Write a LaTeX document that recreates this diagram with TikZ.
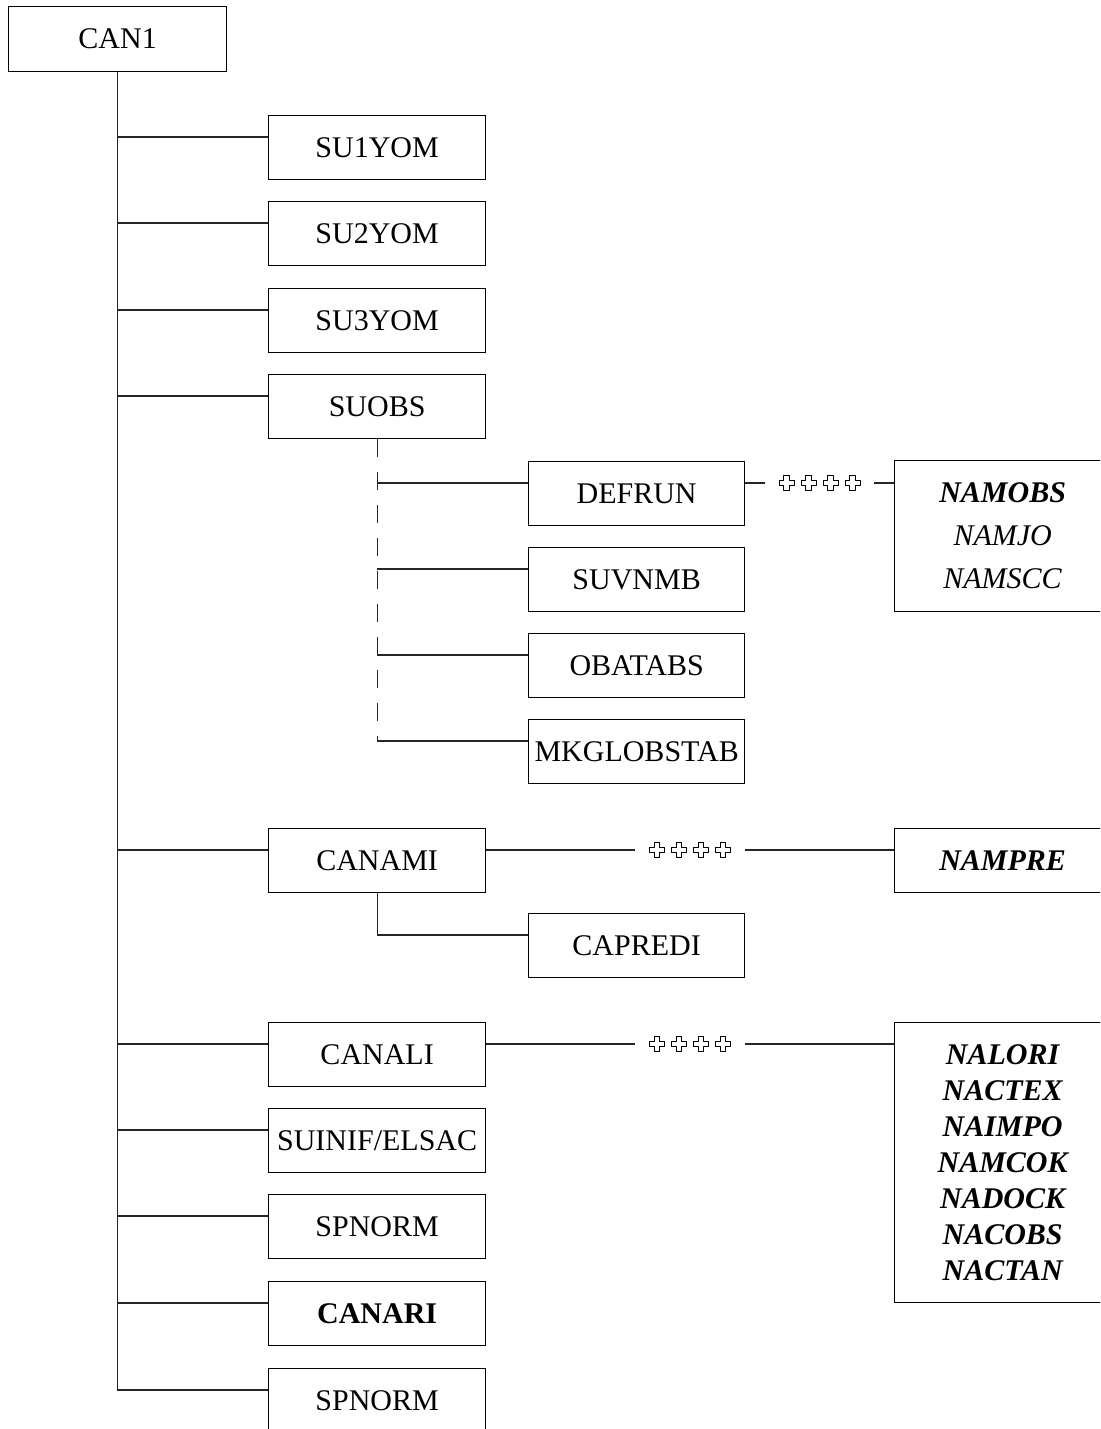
\documentclass[tikz,border=0pt]{standalone}
\usepackage{fontspec}
\setmainfont{Liberation Serif}
\usetikzlibrary{calc}
\begin{document}
\begin{tikzpicture}[x=1pt,y=-1pt,
  box/.style={draw, line width=1.3pt, rectangle, inner sep=0pt, anchor=north west,
              align=center, font=\fontsize{30}{36}\selectfont},
  lvA/.style={box, minimum width=217pt, minimum height=64pt},
  lvB/.style={box, minimum width=216pt, minimum height=64pt},
  side/.style={box, minimum width=216pt},
  conn/.style={draw=black!85, line width=1.2pt},
  dconn/.style={conn, dash pattern=on 18pt off 15pt},
  gap/.style={inner sep=0pt, minimum height=14pt},
  grcross/.pic={\draw[line width=1pt, line join=round]
     (-2.8,-7.5) -- (2.8,-7.5) -- (2.8,-2.8) -- (7.5,-2.8) -- (7.5,2.8) -- (2.8,2.8)
     -- (2.8,7.5) -- (-2.8,7.5) -- (-2.8,2.8) -- (-7.5,2.8) -- (-7.5,-2.8) -- (-2.8,-2.8) -- cycle;}
]
\fill[white] (0,0) rectangle (1100,1429);
\useasboundingbox (0,0) rectangle (1100,1429);
\clip (0,0) rectangle (1100,1429);

% root
\node[box, minimum width=218pt, minimum height=65pt] (can1) at (8,6) {CAN1};

% first level
\node[lvA] (su1)    at (268,115)  {SU1YOM};
\node[lvA] (su2)    at (268,201)  {SU2YOM};
\node[lvA] (su3)    at (268,288)  {SU3YOM};
\node[lvA] (suobs)  at (268,374)  {SUOBS};
\node[lvA] (canami) at (268,828)  {CANAMI};
\node[lvA] (canali) at (268,1022) {CANALI};
\node[lvA] (suinif) at (268,1108) {SUINIF/ELSAC};
\node[lvA] (spna)   at (268,1194) {SPNORM};
\node[lvA] (canari) at (268,1281) {\textbf{CANARI}};
\node[lvA] (spnb)   at (268,1368) {SPNORM};

% second level
\node[lvB] (defrun)  at (528,461) {DEFRUN};
\node[lvB] (suvnmb)  at (528,547) {SUVNMB};
\node[lvB] (obatabs) at (528,633) {OBATABS};
\node[lvB] (mkglob)  at (528,719) {MKGLOBSTAB};
\node[lvB] (capredi) at (528,913) {CAPREDI};

% namelists
\node[side, minimum height=151pt, font=\fontsize{30}{43}\selectfont] (namobs) at (894,460)
  {\textbf{\textit{NAMOBS}}\\\textit{NAMJO}\\\textit{NAMSCC}};
\node[side, minimum height=64pt] (nampre) at (894,828) {\textbf{\textit{NAMPRE}}};
\node[side, minimum height=280pt, font=\fontsize{30}{36}\selectfont\bfseries\itshape] (nalori) at (894,1022)
  {NALORI\\NACTEX\\NAIMPO\\NAMCOK\\NADOCK\\NACOBS\\NACTAN};

% branch points, 22pt below the top of each box
\foreach \n in {su1,su2,su3,suobs,canami,canali,suinif,spna,canari,spnb,defrun,suvnmb,obatabs,mkglob,capredi}
  \coordinate (b\n) at ($(\n.north west)+(0,22)$);

% main trunk
\draw[conn] (can1.south) -- (can1.south |- bspnb) -- (bspnb);
\foreach \n in {su1,su2,su3,suobs,canami,canali,suinif,spna,canari}
  \draw[conn] (can1.south |- b\n) -- (b\n);

% SUOBS children
\draw[dconn] (suobs.south) -- (suobs.south |- bmkglob);
\foreach \n in {defrun,suvnmb,obatabs,mkglob}
  \draw[conn] (suobs.south |- b\n) -- (b\n);

% CANAMI child
\draw[conn] (canami.south) |- (bcapredi);

% links to namelists
\node[gap, minimum width=108pt] (xa) at ($(defrun.east |- bdefrun)!0.5!(namobs.west |- bdefrun)$) {};
\node[gap, minimum width=110pt] (xb) at ($(canami.east |- bcanami)!0.5!(nampre.west |- bcanami)$) {};
\node[gap, minimum width=110pt] (xc) at ($(canali.east |- bcanali)!0.5!(nalori.west |- bcanali)$) {};

\draw[conn] (defrun.east |- xa) -- (xa.west);
\draw[conn] (xa.east) -- (namobs.west |- xa);
\draw[conn] (canami.east |- xb) -- (xb.west);
\draw[conn] (xb.east) -- (nampre.west |- xb);
\draw[conn] (canali.east |- xc) -- (xc.west);
\draw[conn] (xc.east) -- (nalori.west |- xc);

\foreach \g in {xa,xb,xc}
  \foreach \k in {-33,-11,11,33}
    \pic at ($(\g.center)+(\k,0)$) {grcross};
\end{tikzpicture}
\end{document}
